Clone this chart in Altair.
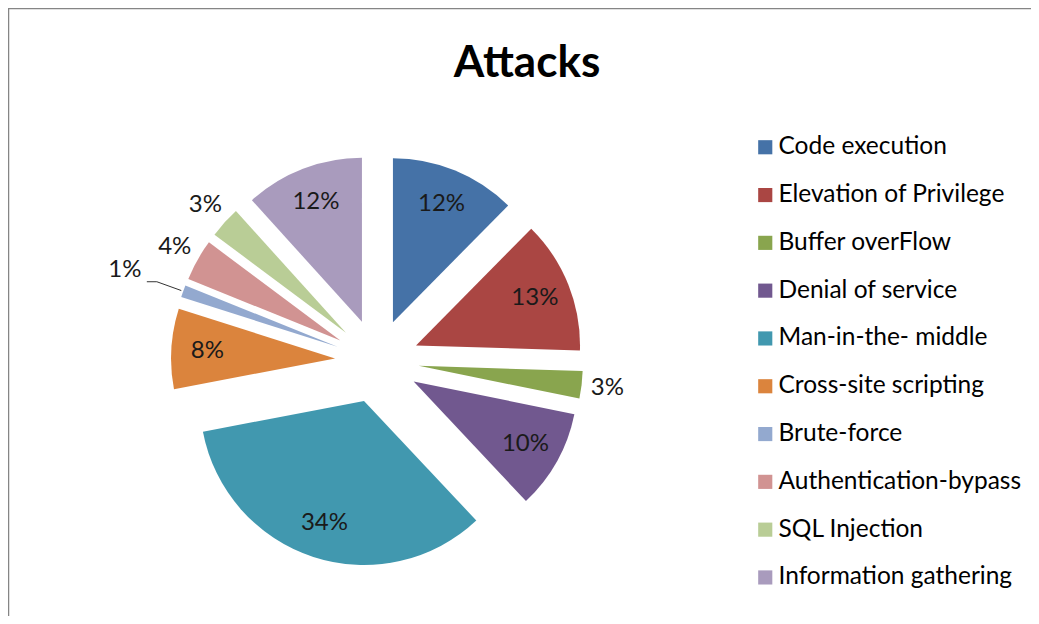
import altair as alt
import pandas as pd

categories = ["Code execution", "Elevation of Privilege", "Buffer overFlow",
              "Denial of service", "Man-in-the- middle", "Cross-site scripting",
              "Brute-force", "Authentication-bypass", "SQL Injection",
              "Information gathering"]
values = [12.4, 13.1, 2.7, 9.8, 34.0, 7.9, 1.2, 4.1, 3.1, 11.7]
colors = ["#4572A7", "#AA4643", "#89A54E", "#71588F", "#4198AF",
          "#DB843D", "#93A9CF", "#D19392", "#B9CD96", "#A99BBD"]
title_text = "Attacks"

df = pd.DataFrame({"category": categories, "value": values,
                   "idx": list(range(len(categories)))})

W, H = 1023, 608
CX, CY, R, EXPLODE = 369, 353, 164, 42
FONT = "Lato"

base = alt.Chart(df).transform_window(
    cum="sum(value)", sort=[alt.SortField("idx")], frame=[None, 0]
).transform_joinaggregate(
    total="sum(value)"
).transform_calculate(
    pct="datum.value / datum.total",
    a0="(datum.cum - datum.value) / datum.total * 2 * PI",
    a1="datum.cum / datum.total * 2 * PI",
).transform_calculate(
    mid="(datum.a0 + datum.a1) / 2",
).transform_calculate(
    px=f"{CX} + {EXPLODE} * sin(datum.mid)",
    py=f"{CY} - {EXPLODE} * cos(datum.mid)",
    lr="datum.pct >= 0.05 ? 128 : (datum.pct < 0.02 ? 226 : 190)",
).transform_calculate(
    lx="datum.px + datum.lr * sin(datum.mid)",
    ly="datum.py - datum.lr * cos(datum.mid)",
    l0x=f"datum.px + {R + 2} * sin(datum.mid)",
    l0y=f"datum.py - {R + 2} * cos(datum.mid)",
    l1x=f"datum.px + {R + 28} * sin(datum.mid)",
    l1y=f"datum.py - {R + 28} * cos(datum.mid)",
).transform_calculate(
    l2x="datum.l1x - 10",
)

arcs = base.mark_arc(radius=R).encode(
    theta=alt.Theta("a0:Q", scale=None, stack=None),
    theta2="a1:Q",
    x=alt.X("px:Q", scale=None, axis=None),
    y=alt.Y("py:Q", scale=None, axis=None),
    color=alt.Color("category:N",
                    scale=alt.Scale(domain=categories, range=colors),
                    sort=categories,
                    legend=alt.Legend(title=None, orient="none",
                                      legendX=745, legendY=127,
                                      symbolType="square", symbolSize=200,
                                      symbolStrokeWidth=0, symbolOpacity=1,
                                      labelFont=FONT, labelFontSize=24.5,
                                      labelColor="#000000", labelOffset=1,
                                      rowPadding=22.8, padding=0,
                                      labelLimit=400)),
    order=alt.Order("idx:Q"),
)

labels = base.mark_text(font=FONT, fontSize=24, color="#1a1a1a",
                        align="center", baseline="middle").encode(
    x=alt.X("lx:Q", scale=None, axis=None),
    y=alt.Y("ly:Q", scale=None, axis=None),
    text=alt.Text("pct:Q", format=".0%"),
)

leader1 = base.transform_filter("datum.pct < 0.02").mark_rule(
    color="#333333", strokeWidth=1).encode(
    x=alt.X("l0x:Q", scale=None, axis=None),
    y=alt.Y("l0y:Q", scale=None, axis=None),
    x2="l1x:Q", y2="l1y:Q")

leader2 = base.transform_filter("datum.pct < 0.02").mark_rule(
    color="#333333", strokeWidth=1).encode(
    x=alt.X("l1x:Q", scale=None, axis=None),
    y=alt.Y("l1y:Q", scale=None, axis=None),
    x2="l2x:Q")

title = alt.Chart(pd.DataFrame({"t": [title_text]})).mark_text(
    font=FONT, fontSize=44, fontWeight="bold", color="#000000",
    align="center", baseline="alphabetic").encode(
    text="t:N", x=alt.value(519), y=alt.value(69))

border_left = alt.Chart(pd.DataFrame({"t": [0]})).mark_rule(
    color="#858585", strokeWidth=2.5).encode(
    x=alt.value(0), y=alt.value(-1), y2=alt.value(H + 20))
border_top = alt.Chart(pd.DataFrame({"t": [0]})).mark_rule(
    color="#858585", strokeWidth=2.5).encode(
    x=alt.value(-1), x2=alt.value(W + 20), y=alt.value(0))

chart = alt.layer(arcs, labels, leader1, leader2, title, border_left, border_top).properties(
    width=W, height=H, autosize=alt.AutoSizeParams(type="none"), padding=0,
    background="white"
).configure_view(strokeWidth=0, stroke="transparent")

chart.save("out.html", embed_options={"renderer": "svg", "actions": False})
